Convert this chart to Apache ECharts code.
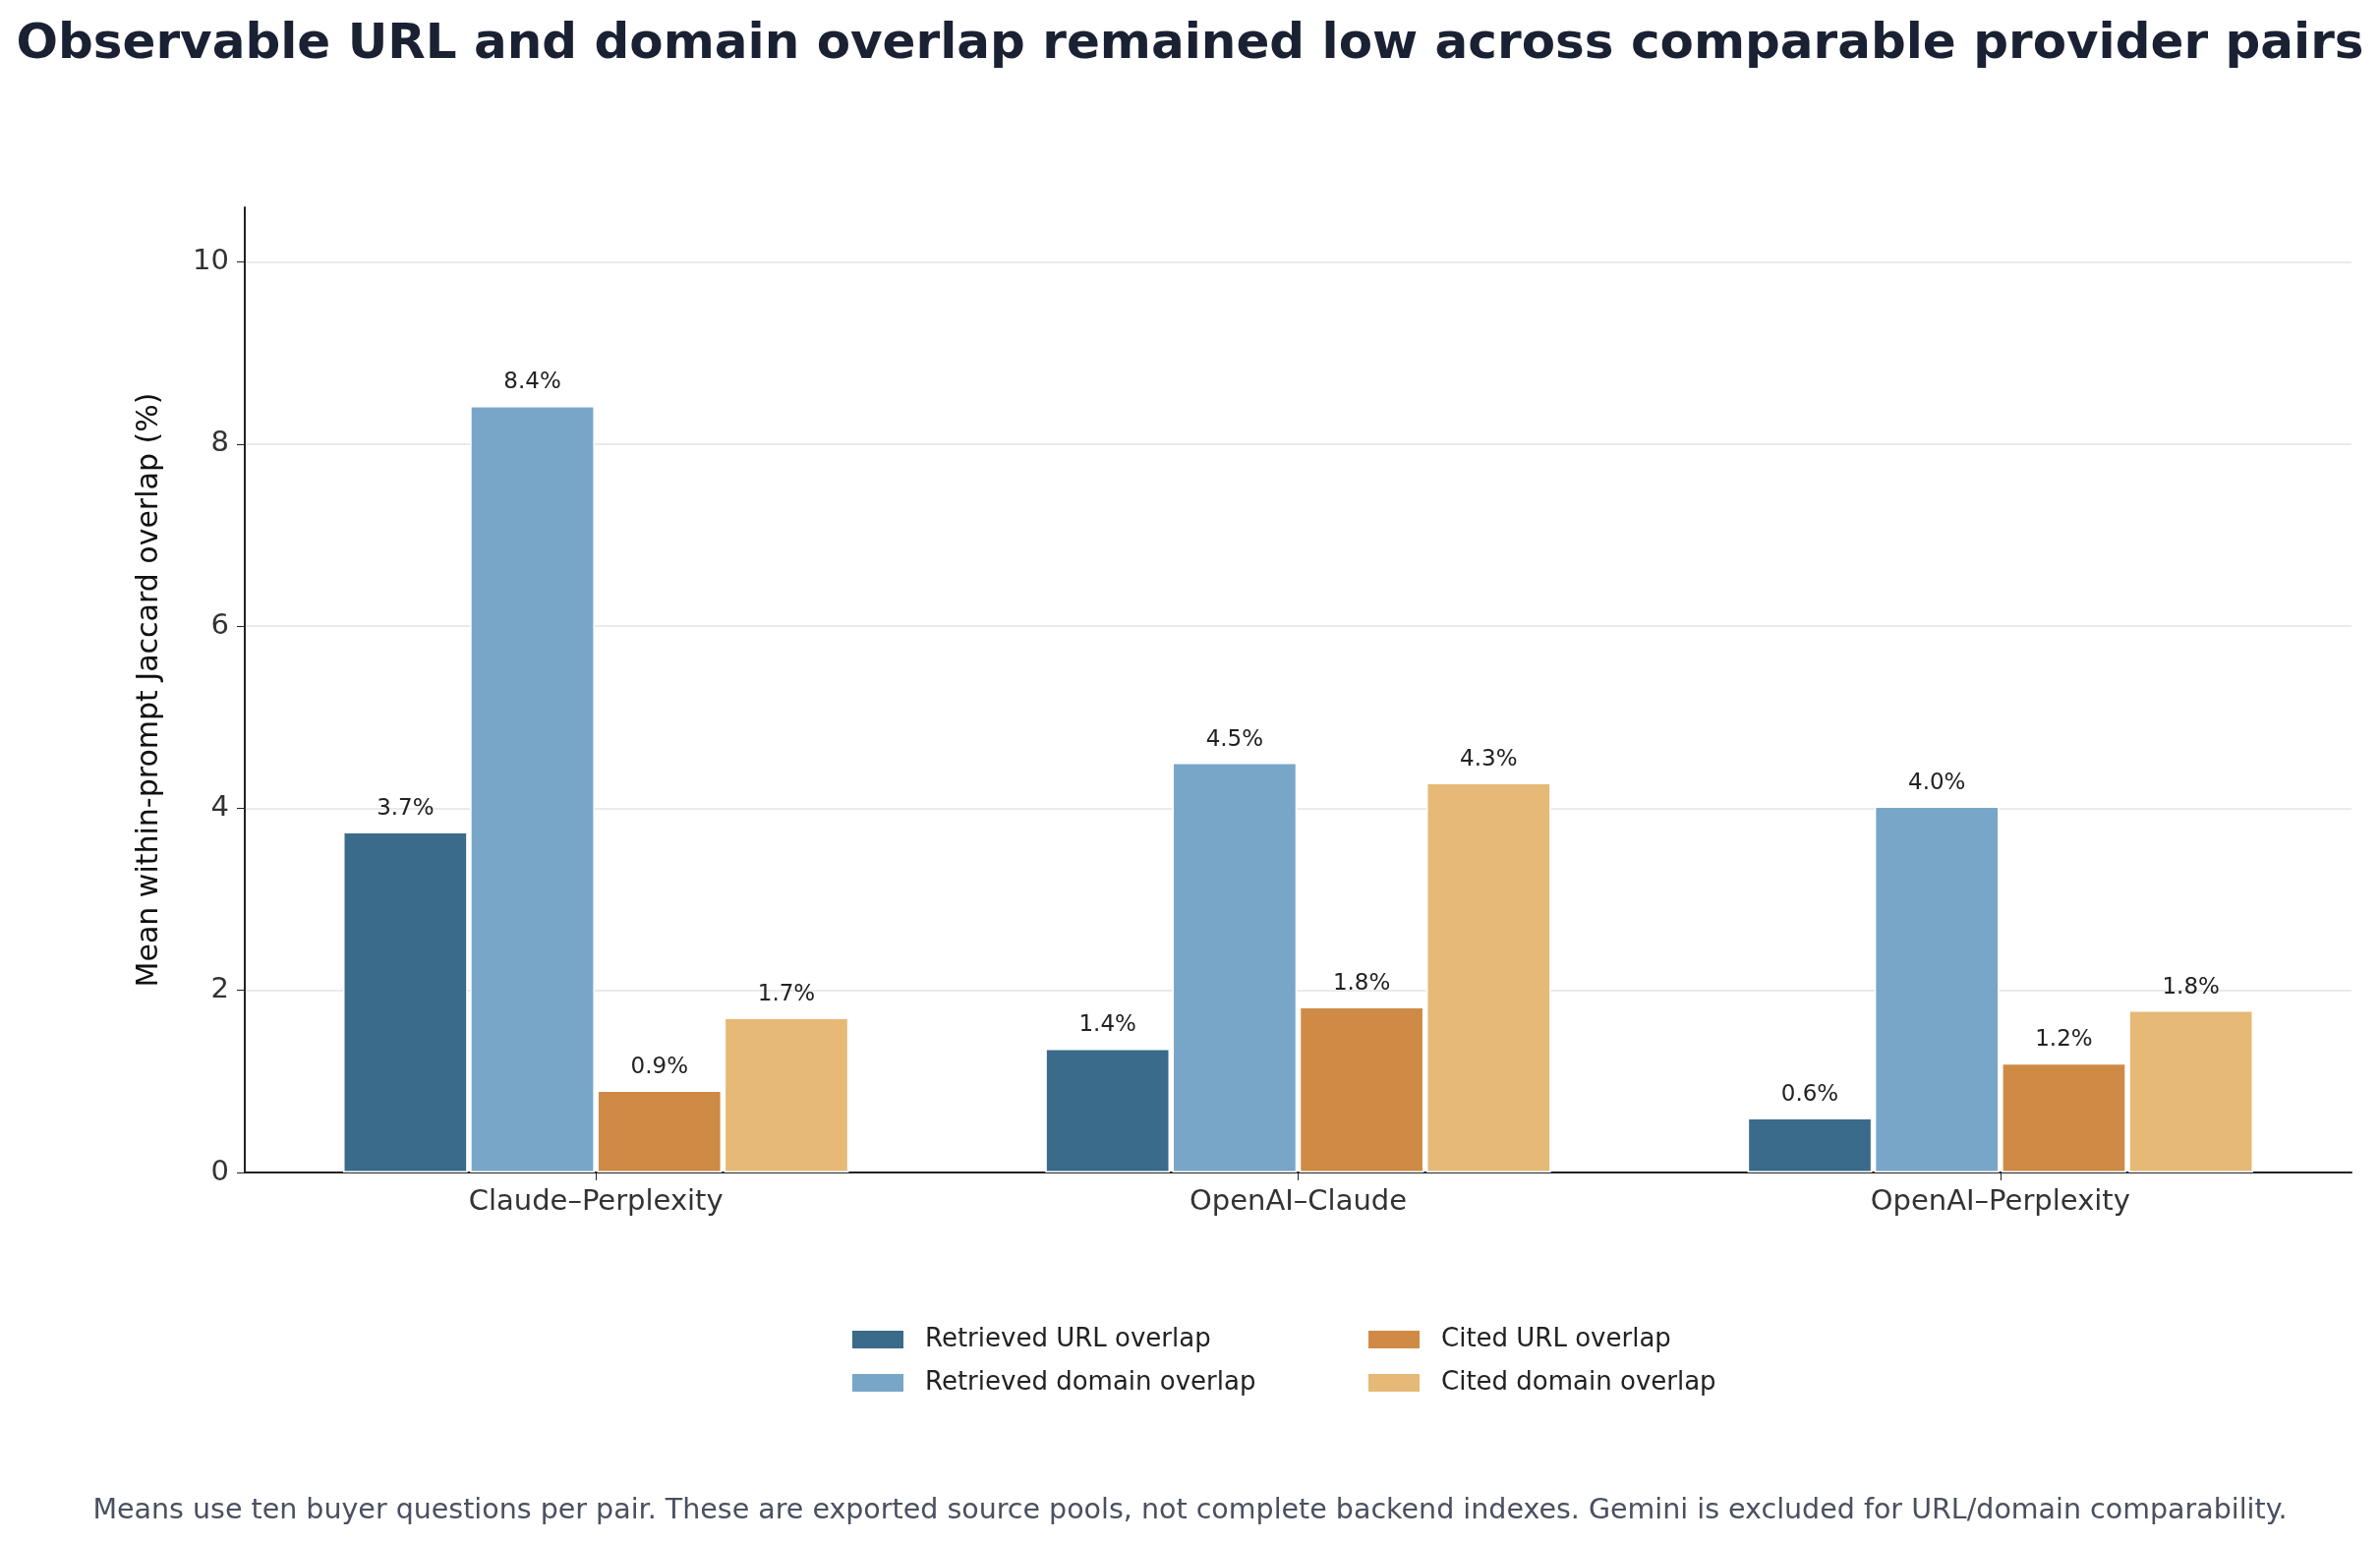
<!DOCTYPE html>
<html>
<head>
<meta charset="utf-8">
<script src="https://cdn.jsdelivr.net/npm/echarts@6/dist/echarts.min.js"></script>
<style>html,body{margin:0;padding:0;background:#fff}#chart{width:2421px;height:1570px}</style>
</head>
<body>
<div id="chart"></div>
<script>
var pairs = ['Claude\u2013Perplexity', 'OpenAI\u2013Claude', 'OpenAI\u2013Perplexity'];
var seriesNames = ['Retrieved URL overlap', 'Retrieved domain overlap', 'Cited URL overlap', 'Cited domain overlap'];
var retrievedUrl = [3.74, 1.36, 0.60];
var retrievedDomain = [8.42, 4.50, 4.02];
var citedUrl = [0.90, 1.82, 1.20];
var citedDomain = [1.70, 4.28, 1.78];
var colors = ['#3a6b8a', '#78a6c8', '#cf8a45', '#e6b976'];
var yTicks = [0, 2, 4, 6, 8, 10];

var chart = echarts.init(document.getElementById('chart'), null, {renderer: 'canvas'});
var font = 'DejaVu Sans';
var values = [retrievedUrl, retrievedDomain, citedUrl, citedDomain];

var series = values.map(function (v, i) {
    return {
        name: seriesNames[i],
        type: 'bar',
        data: v,
        barGap: '2%',
        barCategoryGap: '28%',
        itemStyle: {color: colors[i], borderColor: '#fff', borderWidth: 1.5},
        label: {
            show: true, position: 'top', distance: 12,
            fontFamily: font, fontSize: 23, color: '#222',
            formatter: function (p) { return p.value.toFixed(1) + '%'; }
        }
    };
});

var legendCommon = {
    orient: 'vertical', top: 1345, icon: 'rect',
    itemWidth: 54, itemHeight: 20, itemGap: 18,
    textStyle: {fontFamily: font, fontSize: 26, color: '#222', padding: [0, 0, 0, 16]}
};

chart.setOption({
    animation: false,
    textStyle: {fontFamily: font},
    title: [{
        text: 'Observable URL and domain overlap remained low across comparable provider pairs',
        left: 'center', top: 16,
        textStyle: {fontFamily: font, fontSize: 50, fontWeight: 'bold', color: '#1a2133'}
    }, {
        text: 'Means use ten buyer questions per pair. These are exported source pools, not complete backend indexes. Gemini is excluded for URL/domain comparability.',
        left: 'center', top: 1518,
        textStyle: {fontFamily: font, fontSize: 28.5, fontWeight: 'normal', color: '#4a5060'}
    }],
    legend: [
        Object.assign({data: seriesNames.slice(0, 2), left: 860}, legendCommon),
        Object.assign({data: seriesNames.slice(2), left: 1385}, legendCommon)
    ],
    grid: {left: 249, right: 29, top: 211, bottom: 377},
    xAxis: {
        type: 'category', data: pairs,
        axisLine: {lineStyle: {color: '#222', width: 2}},
        axisTick: {show: true, alignWithLabel: true, length: 8, lineStyle: {color: '#222'}, interval: 0},
        axisLabel: {fontFamily: font, fontSize: 29, color: '#333', margin: 16}
    },
    yAxis: {
        type: 'value', min: 0, max: 10.6, interval: 2,
        name: 'Mean within-prompt Jaccard overlap (%)',
        nameLocation: 'middle', nameGap: 82,
        nameTextStyle: {fontFamily: font, fontSize: 30, color: '#111'},
        axisLine: {show: true, lineStyle: {color: '#222', width: 2}},
        axisTick: {show: true, length: 8, lineStyle: {color: '#222'}},
        axisLabel: {
            fontFamily: font, fontSize: 29, color: '#333', margin: 16, showMaxLabel: false,
            formatter: function (v) { return yTicks.indexOf(v) >= 0 ? String(v) : ''; }
        },
        splitLine: {showMaxLine: false, lineStyle: {color: '#e3e3e3', width: 1.5}}
    },
    series: series
});
</script>
</body>
</html>
